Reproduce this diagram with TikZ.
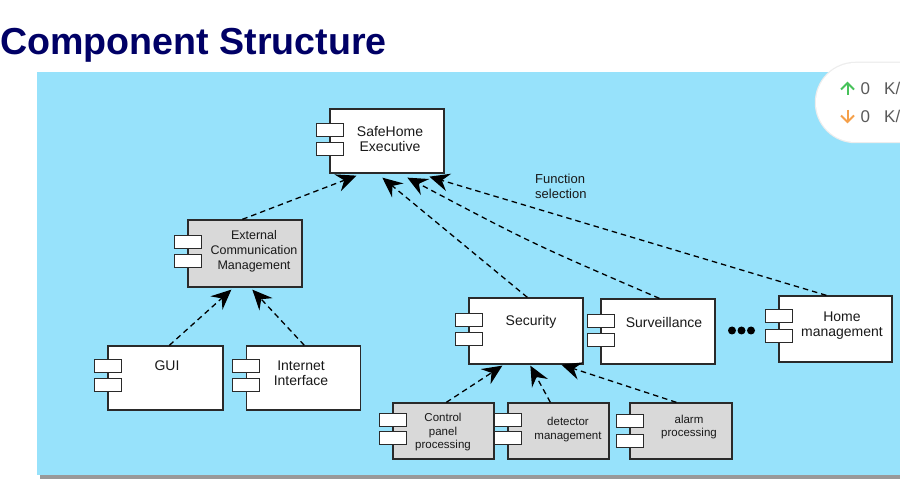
\documentclass[tikz,border=0pt]{standalone}
\usepackage{fontspec}
\setmainfont{Liberation Sans}
\usetikzlibrary{arrows.meta,calc}
\definecolor{bgblue}{HTML}{97E2FB}
\definecolor{boxgrey}{HTML}{D9D9D9}
\definecolor{edgec}{HTML}{2A2A2A}
\definecolor{navy}{HTML}{000066}
\definecolor{upgreen}{HTML}{47C25A}
\definecolor{downorange}{HTML}{F5A04A}
\definecolor{popgrey}{HTML}{5A5A5A}
\begin{document}
\begin{tikzpicture}[x=1pt,y=-1pt,
  comp/.style={draw=edgec, line width=1.3pt, inner sep=0pt, fill=white},
  port/.style={draw=edgec, line width=1.2pt, fill=white},
  dep/.style={draw=black, line width=1.3pt, dash pattern=on 5.5pt off 4pt, -{Stealth[length=20pt,width=18pt,inset=7pt]}},
  big/.style={font=\fontsize{14}{15}\selectfont, align=center, text=black!90, inner sep=0pt},
  mid/.style={font=\fontsize{12.5}{15}\selectfont, align=center, text=black!90, inner sep=0pt},
  small/.style={font=\fontsize{11.5}{13.5}\selectfont, align=center, text=black!90, inner sep=0pt},
  poptext/.style={font=\fontsize{17}{18}\selectfont, text=popgrey, inner sep=0pt, anchor=base west}]
\useasboundingbox (0,0) rectangle (900,486);
\fill[white] (0,0) rectangle (900,486);
% title
\node[anchor=base west, inner sep=0pt, text=navy, font=\fontsize{37.6}{40}\selectfont\bfseries] (title) at (0,55) {Component Structure};
% blue panel
\fill[black!40] (40,475) rectangle (900,478.5);
\fill[bgblue] (37,72) rectangle (900,475);
% popup
\draw[black!7, line width=2.5pt, rounded corners=39.5pt] (816,63) rectangle (960,142);
\fill[white, rounded corners=39.5pt] (816,63) rectangle (960,142);
\draw[upgreen, line width=2pt] (847.5,95) -- (847.5,83);
\draw[upgreen, line width=2pt, line join=miter] (841,89.5) -- (847.5,83) -- (854,89.5);
\draw[downorange, line width=2pt] (847.5,110) -- (847.5,122);
\draw[downorange, line width=2pt, line join=miter] (841,115.5) -- (847.5,122) -- (854,115.5);
\node[poptext] (up0) at (860.5,94.5) {0};
\node[poptext] (upk) at (884,94.5) {K/};
\node[poptext] (dn0) at (860.5,122.5) {0};
\node[poptext] (dnk) at (884,122.5) {K/};
% components
\newcommand\compports[3]{%
  \draw[port] ($(#1.north west)+(-13,#2)$) rectangle ++(27,13);
  \draw[port] ($(#1.north west)+(-13,#3)$) rectangle ++(27,13);}
\node[comp, minimum width=114pt, minimum height=64pt] (exec) at (387,141) {};
\compports{exec}{15}{34}
\node[comp, fill=boxgrey, minimum width=114pt, minimum height=67pt] (ext) at (245,253.5) {};
\compports{ext}{16}{35}
\node[comp, minimum width=115pt, minimum height=64pt] (gui) at (165.5,378) {};
\compports{gui}{14}{33}
\node[comp, minimum width=114pt, minimum height=64pt] (inet) at (303.5,378) {};
\compports{inet}{14}{33}
\node[comp, minimum width=114pt, minimum height=66pt] (sec) at (526,331) {};
\compports{sec}{16}{35}
\node[comp, minimum width=114pt, minimum height=65pt] (surv) at (658,331.5) {};
\compports{surv}{16}{35}
\node[comp, minimum width=113pt, minimum height=66pt] (home) at (835.5,329) {};
\compports{home}{14}{34}
\node[comp, fill=boxgrey, minimum width=101pt, minimum height=56pt] (ctrl) at (443.5,431) {};
\compports{ctrl}{11}{29}
\node[comp, fill=boxgrey, minimum width=101pt, minimum height=56pt] (det) at (558.5,431) {};
\compports{det}{11}{29}
\node[comp, fill=boxgrey, minimum width=102pt, minimum height=56pt] (alarm) at (681,431) {};
\compports{alarm}{12}{32}
% labels
\node[big] (exect) at (390,139.5) {SafeHome\\Executive};
\node[mid] (extt) at (254,251) {External\\Communication\\Management};
\node[big] (guit) at (167,366) {GUI};
\node[big] (inett) at (301,373.5) {Internet\\Interface};
\node[big] (sect) at (531,322) {Security};
\node[big] (survt) at (664,322) {Surveillance};
\node[big] (homet) at (842,325.5) {Home\\management};
\node[font=\fontsize{13}{15}\selectfont, align=left, anchor=west, inner sep=0pt, text=black!90] (func) at (535,186.5) {Function\\selection};
\node[small] (ctrlt) at (443,432.5) {Control\\panel\\processing};
\node[small] (dett) at (568,429.5) {detector\\management};
\node[small] (alarmt) at (689,427) {alarm\\processing};
% ellipsis dots
\fill[black] (732,330.5) circle (4pt) (741.5,330.5) circle (4pt) (751,330.5) circle (4pt);
% connectors
\draw[dep] ($(ext.north west)+(55,0)$) -- ($(exec.south west)+(27,2)$);
\draw[dep] ($(gui.north west)+(62,0)$) -- ($(ext.south west)+(44,2)$);
\draw[dep] ($(inet.north west)+(58.5,0)$) -- ($(ext.south west)+(65,2)$);
\draw[dep] ($(sec.north west)+(59,0)$) -- ($(exec.south west)+(53,4)$);
\coordinate (survbend) at (531,243);
\draw[dep] ($(surv.north west)+(59,0)$) .. controls (survbend) .. ($(exec.south west)+(78,4)$);
\draw[dep] ($(home.north west)+(48,0)$) -- ($(exec.south west)+(100,3)$);
\draw[dep] ($(ctrl.north west)+(54,0)$) -- ($(sec.south west)+(34,1)$);
\draw[dep] ($(det.north west)+(43,0)$) -- ($(sec.south west)+(62,1)$);
\draw[dep] ($(alarm.north west)+(47,0)$) -- ($(sec.south west)+(93,0)$);
\end{tikzpicture}
\end{document}
